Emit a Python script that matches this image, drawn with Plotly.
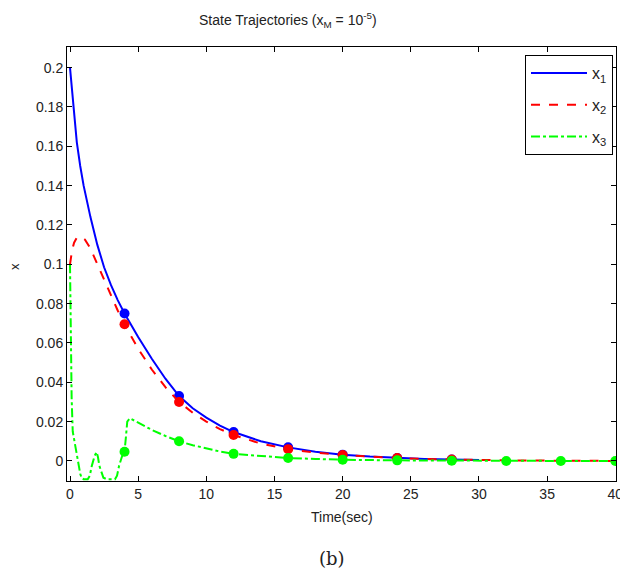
import plotly.graph_objects as go

# --- data ---
t1 = [0, 0.25, 0.5, 0.75, 1, 1.5, 2, 2.5, 3, 3.5, 4, 5, 6, 7, 8, 9, 10, 11, 12,
      14, 16, 18, 20, 22, 24, 26, 28, 30]
x1 = [0.200, 0.179, 0.162, 0.150, 0.140, 0.124, 0.110, 0.0985, 0.0895, 0.0818, 0.075,
      0.063, 0.052, 0.0418, 0.0330, 0.0268, 0.0220, 0.0180, 0.0147,
      0.0100, 0.0069, 0.0047, 0.0032, 0.0022, 0.0015, 0.0010, 0.0007, 0.0005]

t2 = [0, 0.15, 0.3, 0.5, 0.8, 1.1, 1.5, 2, 2.5, 3, 3.5, 4, 5, 6, 7, 8, 9, 10, 11, 12,
      14, 16, 18, 20, 22, 24, 26, 28, 30, 32, 34, 36, 38, 40]
x2 = [0.100, 0.107, 0.111, 0.1135, 0.114, 0.1125, 0.108, 0.100, 0.092, 0.084, 0.0765,
      0.0695, 0.057, 0.0465, 0.0375, 0.030, 0.0245, 0.020, 0.0162, 0.0132,
      0.0088, 0.0060, 0.0042, 0.0030, 0.0021, 0.0015, 0.0010, 0.0007, 0.0005,
      0.0003, 0.0002, 0.0001, 0.0, 0.0]

t3 = [0, 0.05, 0.12, 0.2, 0.37, 0.5, 0.61, 0.75, 0.86, 1.0, 1.3, 1.45, 1.6, 1.8, 1.95,
      2.05, 2.15, 2.3, 2.45, 2.7, 3.0, 3.3, 3.45, 3.6, 3.8, 4.0, 4.1, 4.2, 4.4, 5, 6, 7,
      8, 9, 10, 11, 12, 14, 16, 18, 20, 24, 28, 32, 36, 40]
x3 = [0.100, 0.060, 0.032, 0.015, 0.0078, 0.002, -0.0024, -0.0065, -0.0088, -0.0093,
      -0.0093, -0.0075, -0.0025, 0.0025, 0.0045, 0.002, -0.0024, -0.006, -0.0085,
      -0.0093, -0.0093, -0.0093, -0.0075, -0.0025, 0.002, 0.0047, 0.012, 0.020, 0.0217,
      0.0195, 0.0158, 0.0127, 0.0100, 0.0080, 0.0063, 0.0048, 0.0036, 0.0024, 0.0015,
      0.0010, 0.0006, 0.0003, 0.0001, 0.0, 0.0, 0.0]

# sampled points (markers)
tm1 = [4, 8, 12, 16, 20, 24, 28]
xm1 = [0.075, 0.0330, 0.0147, 0.0069, 0.0032, 0.0015, 0.0007]
tm2 = [4, 8, 12, 16, 20, 24, 28]
xm2 = [0.0695, 0.030, 0.0132, 0.0060, 0.0030, 0.0015, 0.0007]
tm3 = [4, 8, 12, 16, 20, 24, 28, 32, 36, 40]
xm3 = [0.0047, 0.0100, 0.0036, 0.0015, 0.0006, 0.0003, 0.0001, 0.0, 0.0, 0.0]

xticks = [0, 5, 10, 15, 20, 25, 30, 35, 40]
yticks = [0, 0.02, 0.04, 0.06, 0.08, 0.1, 0.12, 0.14, 0.16, 0.18, 0.2]
ytick_text = ["0", "0.02", "0.04", "0.06", "0.08", "0.1", "0.12", "0.14", "0.16", "0.18", "0.2"]

BLUE, RED, GREEN = "#0000ff", "#ff0000", "#00ff00"
FONT = "Liberation Sans, Arial, sans-serif"

# full window; the page body margin is removed in the html below
W, H = 620, 572
L, T, R, B = 67, 47, 4, 91
PW, PH = W - L - R, H - T - B

fig = go.Figure()

series = [
    (t1, x1, tm1, xm1, BLUE, "solid", "x<sub>1</sub>"),
    (t2, x2, tm2, xm2, RED, "dash", "x<sub>2</sub>"),
    (t3, x3, tm3, xm3, GREEN, "dashdot", "x<sub>3</sub>"),
]
for i, (t, x, tm, xm, col, dash, name) in enumerate(series):
    fig.add_trace(go.Scatter(
        x=t, y=x, mode="lines", name=name, legendgroup=str(i),
        line=dict(color=col, width=2, dash=dash),
    ))
    fig.add_trace(go.Scatter(
        x=tm, y=xm, mode="markers", showlegend=False, legendgroup=str(i),
        marker=dict(color=col, size=10, line=dict(width=0)),
    ))

axis_common = dict(
    showgrid=False, zeroline=False, showline=True, linecolor="black", linewidth=1,
    mirror="ticks", ticks="inside", ticklen=5, tickcolor="black",
    tickfont=dict(family=FONT, size=14, color="#222"),
    ticklabeloverflow="allow", automargin=False,
)

fig.update_xaxes(range=[-0.22, 40.05], tickvals=xticks, **axis_common)
fig.update_yaxes(range=[-0.0102, 0.2105], tickvals=yticks, ticktext=ytick_text, **axis_common)


# helpers: window pixel -> paper coords
def px(xw):
    return (xw - L) / PW


def py(yw):
    return 1 - (yw - T) / PH


fig.update_layout(
    width=W, height=H,
    margin=dict(l=L, r=R, t=T, b=B),
    plot_bgcolor="white", paper_bgcolor="white",
    showlegend=True,
    legend=dict(
        x=px(525), y=py(55), xanchor="left", yanchor="top",
        bgcolor="white", bordercolor="black", borderwidth=1,
        font=dict(family=FONT, size=16, color="#222"),
        traceorder="grouped", tracegroupgap=8, itemwidth=56,
    ),
    annotations=[
        dict(text="State Trajectories (x<sub>M</sub> = 10<sup>-5</sup>)",
             xref="paper", yref="paper", x=px(288), y=py(20),
             xanchor="center", yanchor="middle", showarrow=False,
             font=dict(family=FONT, size=14, color="#222")),
        dict(text="Time(sec)", xref="paper", yref="paper", x=px(342), y=py(517),
             xanchor="center", yanchor="middle", showarrow=False,
             font=dict(family=FONT, size=14, color="#222")),
        dict(text="x", xref="paper", yref="paper", x=px(14), y=py(267),
             xanchor="center", yanchor="middle",
             showarrow=False, textangle=-90,
             font=dict(family=FONT, size=13, color="#222")),
        dict(text="(b)", xref="paper", yref="paper", x=px(332), y=py(558),
             xanchor="center", yanchor="middle", showarrow=False,
             font=dict(family="DejaVu Serif, serif", size=18, color="#222")),
    ],
)

fig.write_html("out.html", config={"displayModeBar": False},
               post_script="document.body.style.margin='0px';")
